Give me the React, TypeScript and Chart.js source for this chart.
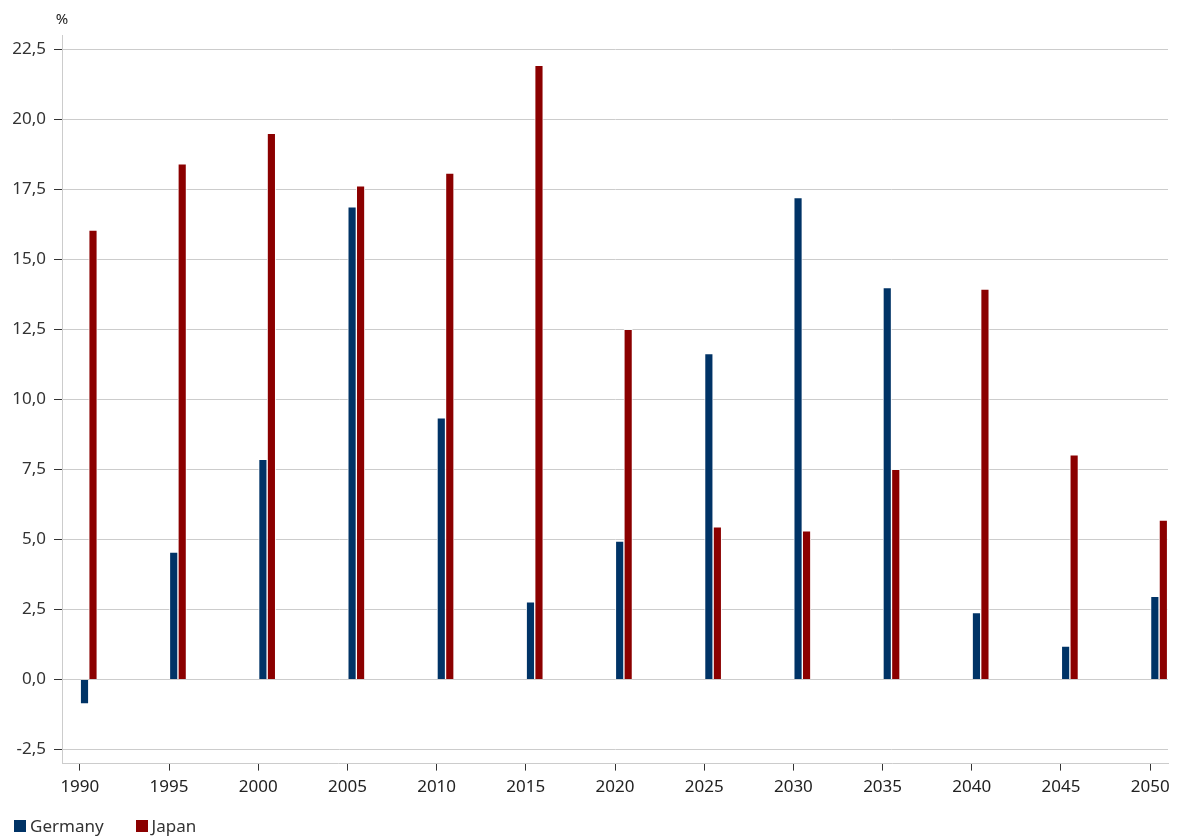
import React, { useEffect, useRef } from "react";
import { Chart, registerables } from "chart.js";

Chart.register(...registerables);

// ---- data ----
const YEARS = [1990, 1995, 2000, 2005, 2010, 2015, 2020, 2025, 2030, 2035, 2040, 2045, 2050];
const GERMANY = [-0.87, 4.55, 7.86, 16.87, 9.34, 2.77, 4.94, 11.63, 17.2, 13.99, 2.39, 1.19, 2.97];
const JAPAN = [16.04, 18.4, 19.49, 17.62, 18.07, 21.92, 12.5, 5.45, 5.31, 7.5, 13.93, 8.02, 5.69];
const SERIES_NAMES = ["Germany", "Japan"];
const SERIES_COLORS = ["#003366", "#8b0000"];
const UNIT = "%";

const Y_MIN = -3;
const Y_MAX = 23;
const Y_STEP = 2.5;
const X_MIN = 1989;
const X_MAX = 2051;
const X_STEP = 5;
const BAR_OFFSET = 0.5; // bars sit just right of each year tick

const FONT = '"Noto Sans", "Open Sans", sans-serif';
const TEXT_COLOR = "#333333";
const GRID_COLOR = "#cccccc";

const unitLabel = {
  id: "unitLabel",
  afterDraw(chart: any) {
    const { ctx, chartArea } = chart;
    ctx.save();
    ctx.font = `15px ${FONT}`;
    ctx.fillStyle = "#222222";
    ctx.textAlign = "center";
    ctx.textBaseline = "middle";
    ctx.fillText(UNIT, chartArea.left, chartArea.top - 15);
    ctx.restore();
  },
};

export default function App() {
  const canvasRef = useRef<HTMLCanvasElement | null>(null);

  useEffect(() => {
    const canvas = canvasRef.current;
    if (!canvas) return;
    const seriesValues = [GERMANY, JAPAN];
    const chart = new Chart(canvas, {
      type: "bar",
      data: {
        datasets: SERIES_NAMES.map((name, si) => ({
          label: name,
          data: YEARS.map((yr, i) => ({ x: yr + BAR_OFFSET, y: seriesValues[si][i] })),
          backgroundColor: SERIES_COLORS[si],
          borderColor: "rgba(255,255,255,0.85)",
          borderWidth: 1,
          barThickness: 8.5,
        })),
      },
      options: {
        animation: false,
        responsive: true,
        maintainAspectRatio: false,
        layout: { padding: { left: 0, right: 12, top: 35, bottom: 34 } },
        plugins: {
          legend: { display: false },
          tooltip: { enabled: false },
        },
        scales: {
          x: {
            type: "linear",
            min: X_MIN,
            max: X_MAX,
            offset: false,
            border: { display: true, color: GRID_COLOR },
            grid: {
              display: true,
              offset: false,
              drawOnChartArea: false,
              drawTicks: true,
              tickLength: 7,
              tickColor: "#333333",
            },
            ticks: {
              stepSize: X_STEP,
              includeBounds: false,
              autoSkip: false,
              maxRotation: 0,
              padding: 6,
              color: "#222222",
              font: { family: FONT, size: 17 },
              callback: (v: any) => String(v),
            },
          },
          y: {
            min: Y_MIN,
            max: Y_MAX,
            border: { display: true, color: GRID_COLOR },
            grid: {
              color: GRID_COLOR,
              tickLength: 8,
              tickColor: "#333333",
            },
            ticks: {
              stepSize: Y_STEP,
              includeBounds: false,
              padding: 8,
              color: TEXT_COLOR,
              font: { family: FONT, size: 17 },
              callback: (v: any) => Number(v).toFixed(1).replace(".", ","),
            },
            afterFit(scale: any) {
              scale.width = 62;
            },
          },
        },
      },
      plugins: [unitLabel],
    });
    return () => chart.destroy();
  }, []);

  return (
    <div style={{ position: "absolute", left: 0, top: 0, width: 1180, height: 837, background: "#fff" }}>
      <canvas ref={canvasRef} />
      <div
        style={{
          position: "absolute",
          left: 14,
          top: 816,
          height: 20,
          display: "flex",
          alignItems: "center",
          fontFamily: FONT,
          fontSize: 17,
          color: TEXT_COLOR,
        }}
      >
        {SERIES_NAMES.map((name, i) => (
          <div key={name} style={{ display: "flex", alignItems: "center", marginRight: 32 }}>
            <span style={{ display: "inline-block", width: 12, height: 12, background: SERIES_COLORS[i] }} />
            <span style={{ marginLeft: 4, lineHeight: "20px" }}>{name}</span>
          </div>
        ))}
      </div>
    </div>
  );
}
